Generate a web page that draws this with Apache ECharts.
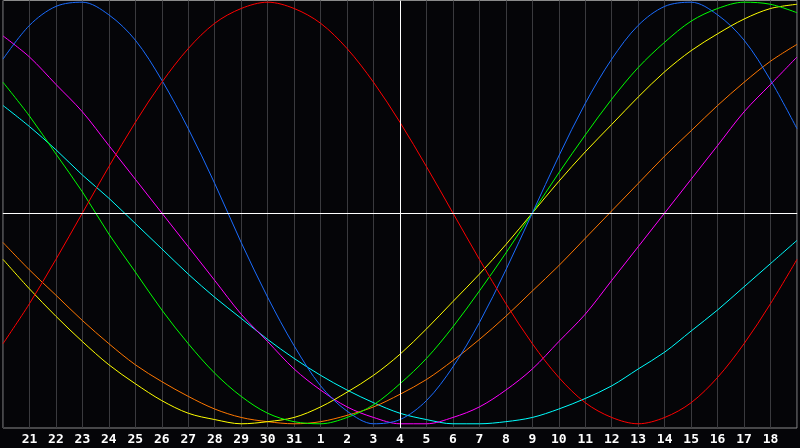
<!DOCTYPE html>
<html>
<head>
<meta charset="utf-8">
<script src="https://cdn.jsdelivr.net/npm/echarts@6/dist/echarts.min.js"></script>
<style>
html,body{margin:0;padding:0;background:#050508;}
#chart{width:800px;height:448px;}
</style>
</head>
<body>
<div id="chart"></div>
<script>
const days = ['20','21','22','23','24','25','26','27','28','29','30','31','1','2','3','4','5','6','7','8','9','10','11','12','13','14','15','16','17','18','19'];

const red     = [-62,-43,-22,0,22,43,62,78,90,97,100,97,90,78,62,43,22,0,-22,-43,-62,-78,-90,-97,-100,-97,-90,-78,-62,-43,-22];
const blue    = [73,89,98,100,94,82,63,40,14,-14,-40,-63,-82,-94,-100,-98,-89,-73,-52,-27,0,27,52,73,89,98,100,94,82,63,40];
const green   = [62,46,28,10,-10,-28,-46,-62,-76,-87,-95,-99,-100,-97,-91,-81,-69,-54,-37,-19,0,19,37,54,69,81,91,97,100,99,95];
const yellow  = [-22,-36,-49,-61,-72,-81,-89,-95,-98,-100,-99,-97,-92,-85,-77,-67,-55,-42,-29,-15,0,15,29,42,55,67,77,85,92,97,99];
const orange  = [-14,-27,-39,-51,-62,-72,-80,-87,-93,-97,-99,-100,-99,-96,-92,-86,-79,-70,-60,-49,-37,-25,-12,1,14,27,39,51,62,72,80];
const magenta = [84,74,61,48,32,16,0,-16,-32,-48,-61,-74,-84,-92,-97,-100,-100,-97,-92,-84,-74,-61,-48,-32,-16,0,16,32,48,61,74];
const cyan    = [51,41,30,18,7,-5,-17,-29,-40,-50,-60,-69,-77,-84,-90,-95,-98,-100,-100,-99,-97,-93,-88,-82,-74,-66,-56,-46,-35,-24,-13];

const centerDay = '4';

const seriesDefs = [
  {name:'cyan', data:cyan, color:'#00ffff'},
  {name:'magenta', data:magenta, color:'#ff00ff'},
  {name:'orange', data:orange, color:'#ff7700'},
  {name:'yellow', data:yellow, color:'#ffff00'},
  {name:'green', data:green, color:'#00ff00'},
  {name:'blue', data:blue, color:'#1a6cff'},
  {name:'red', data:red, color:'#ff0000'}
];

const chart = echarts.init(document.getElementById('chart'), null, {renderer:'canvas'});

const series = seriesDefs.map(s => ({
  name: s.name,
  type: 'line',
  data: s.data,
  smooth: 0.33,
  symbol: 'none',
  lineStyle: {color: s.color, width: 1},
  itemStyle: {color: s.color},
  animation: false,
  z: 3
}));

series.push({
  type: 'line',
  data: [],
  silent: true,
  animation: false,
  markLine: {
    silent: true,
    symbol: 'none',
    label: {show: false},
    lineStyle: {color: '#ffffff', width: 1, type: 'solid'},
    data: [
      {yAxis: 0},
      {xAxis: centerDay}
    ]
  },
  z: 2
});

chart.setOption({
  backgroundColor: '#050508',
  animation: false,
  grid: {
    left: 0.5, right: 0.5, top: 0.5, bottom: 20,
    show: true,
    borderColor: '#8a8a8a',
    borderWidth: 1,
    backgroundColor: 'transparent'
  },
  xAxis: {
    type: 'category',
    data: days,
    boundaryGap: false,
    axisLine: {show: true, lineStyle: {color: '#9a9a9a', width: 1}},
    axisTick: {show: false},
    splitLine: {show: true, interval: 0, lineStyle: {color: '#3a3a3e', width: 1}},
    axisLabel: {
      interval: 0,
      margin: 5,
      color: '#ffffff',
      fontSize: 13,
      fontWeight: 'bold',
      fontFamily: 'DejaVu Sans Mono',
      formatter: function (v, i) { return (i === 0 || i === days.length - 1) ? '' : v; }
    }
  },
  yAxis: {
    type: 'value',
    min: -102,
    max: 100.8,
    show: false,
    splitLine: {show: false}
  },
  series: series
});
</script>
</body>
</html>
